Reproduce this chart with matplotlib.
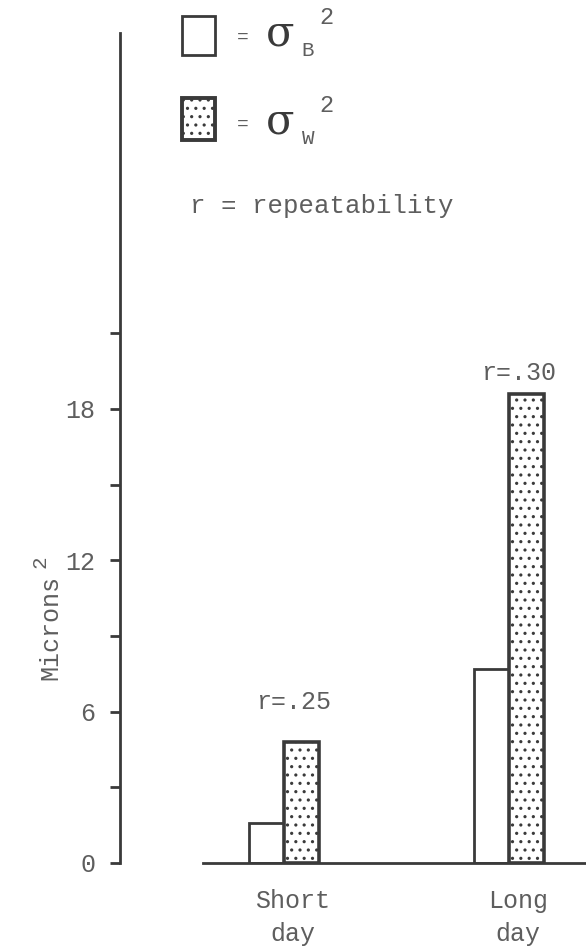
import matplotlib
matplotlib.use("Agg")
import matplotlib.pyplot as plt
import numpy as np
from matplotlib.patches import Rectangle

# data
groups = ["Short\nday", "Long\nday"]
var_between = [1.6, 7.7]    # sigma_B^2
var_within = [4.8, 18.6]    # sigma_W^2
repeatability = ["r=.25", "r=.30"]
major_ticks = [0, 6, 12, 18]
minor_ticks = [3, 9, 15, 21]

W, H = 586, 952
line_color = "#3a3a3a"
text_color = "#5e5e5e"
r_pad = [20, 6]  # points above the dotted bar, as typed on the original

plt.rcParams["font.family"] = ["Liberation Mono", "DejaVu Sans"]
plt.rcParams["hatch.linewidth"] = 1.1


def fx(px):
    return px / W


def fy(py):
    return 1 - py / H


fig = plt.figure(figsize=(W / 100, H / 100), dpi=100)
ax = fig.add_axes([fx(120), fy(863), 1 - fx(120), (863 - 33) / H])

x = np.arange(len(groups))
bw = 0.155
ax.bar(x - bw / 2, var_between, bw, color="white", edgecolor=line_color, linewidth=2)
ax.bar(x + bw / 2, var_within, bw, color="white", edgecolor=line_color, linewidth=2.6, hatch="..")

for xi, wi, r, p in zip(x, var_within, repeatability, r_pad):
    ax.annotate(r, (xi + 0.04, wi), xytext=(0, p), textcoords="offset points",
                ha="center", va="bottom", fontsize=18, color=text_color)

ax.set_xlim(-0.729, 1.342)
ax.set_ylim(0, 32.9)
for s in ["top", "right"]:
    ax.spines[s].set_visible(False)
ax.spines["left"].set_color(line_color)
ax.spines["left"].set_linewidth(2)
ax.spines["bottom"].set_color(line_color)
ax.spines["bottom"].set_linewidth(2)
ax.spines["bottom"].set_bounds(-0.36, 1.342)

ax.set_yticks(major_ticks)
ax.set_yticks(minor_ticks, minor=True)
ax.tick_params(axis="y", which="both", length=7, width=2, color=line_color,
               labelsize=18, labelcolor=text_color, pad=11)
ax.set_xticks(x + 0.04)
ax.set_xticklabels(groups, linespacing=1.45)
ax.tick_params(axis="x", length=0, labelsize=18, labelcolor=text_color, pad=19)

# y label with a separate superscript
fig.text(fx(50), fy(628), "Microns", rotation=90, ha="center", va="center",
         fontsize=18, color=text_color)
fig.text(fx(40), fy(562), "2", rotation=90, ha="center", va="center",
         fontsize=15, color=text_color)

# key drawn by hand, as in the original
fig.add_artist(Rectangle((fx(182), fy(55)), fx(215) - fx(182), (55 - 16) / H,
                         transform=fig.transFigure, facecolor="white",
                         edgecolor=line_color, linewidth=2))
fig.add_artist(Rectangle((fx(182), fy(140)), fx(215) - fx(182), (140 - 98) / H,
                         transform=fig.transFigure, facecolor="white",
                         edgecolor=line_color, linewidth=2.8, hatch=".."))
for yc, sub in [(37, "B"), (124, "W")]:
    fig.text(fx(243), fy(yc), "=", ha="center", va="center", fontsize=14, color=text_color)
    fig.text(fx(280), fy(yc - 3), "σ", ha="center", va="center", fontsize=30,
             family="DejaVu Serif", color=line_color)
    fig.text(fx(308), fy(yc + 14), sub, ha="center", va="center", fontsize=15, color=text_color)
    fig.text(fx(326), fy(yc - 19), "2", ha="center", va="center", fontsize=17, color=text_color)
fig.text(fx(190), fy(206), "r = repeatability", ha="left", va="center",
         fontsize=18.5, color=text_color)

fig.savefig("out.png", dpi=100)
